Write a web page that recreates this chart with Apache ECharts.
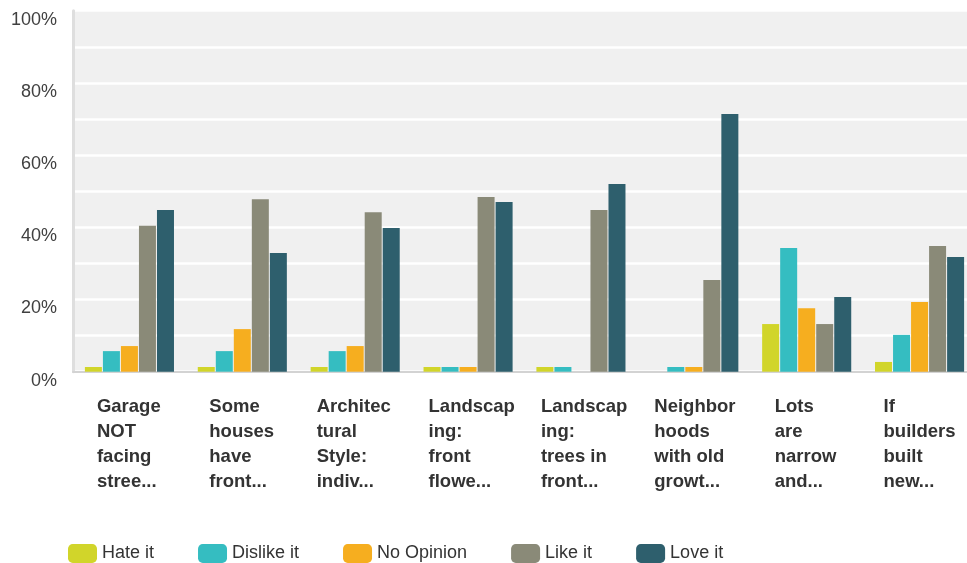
<!DOCTYPE html>
<html>
<head>
<meta charset="utf-8">
<script src="https://cdn.jsdelivr.net/npm/echarts@6/dist/echarts.min.js"></script>
<style>
html,body{margin:0;padding:0;background:#fff;overflow:hidden;}
#chart{width:976px;height:563px;}
</style>
</head>
<body>
<div id="chart"></div>
<script>
const categories = [
  "Garage\nNOT\nfacing\nstree...",
  "Some\nhouses\nhave\nfront...",
  "Architec\ntural\nStyle:\nindiv...",
  "Landscap\ning:\nfront\nflowe...",
  "Landscap\ning:\ntrees in\nfront...",
  "Neighbor\nhoods\nwith old\ngrowt...",
  "Lots\nare\nnarrow\nand...",
  "If\nbuilders\nbuilt\nnew..."
];
const seriesNames = ["Hate it", "Dislike it", "No Opinion", "Like it", "Love it"];
const hateIt    = [1.3, 1.3, 1.3, 1.3, 1.3, 0, 13.2, 2.7];
const dislikeIt = [5.7, 5.7, 5.7, 1.3, 1.3, 1.3, 34.3, 10.2];
const noOpinion = [7.1, 11.8, 7.1, 1.3, 0, 1.3, 17.6, 19.3];
const likeIt    = [40.4, 47.8, 44.2, 48.4, 44.8, 25.4, 13.2, 34.8];
const loveIt    = [44.8, 32.9, 39.8, 47.0, 52.0, 71.4, 20.7, 31.8];
const yTicks = [0, 20, 40, 60, 80, 100];

const colors = ["#d1d52a", "#35bdc1", "#f6ae1f", "#8a8a78", "#2e5f6d"];
const labelWidths = [65, 66, 77, 79, 80, 79, 64, 72];

const rich = {};
labelWidths.forEach((w, i) => {
  rich['w' + i] = {
    width: w, align: 'left', fontSize: 18.5, fontWeight: 'bold',
    fontFamily: 'Liberation Sans, Arial, sans-serif', color: '#333', lineHeight: 25
  };
});

const chart = echarts.init(document.getElementById('chart'));
const dataSets = [hateIt, dislikeIt, noOpinion, likeIt, loveIt];

chart.setOption({
  animation: false,
  grid: {
    left: 73, top: 10.7, right: 0, height: 361,
    show: true, backgroundColor: '#f0f0f0', borderWidth: 0
  },
  legend: {
    left: 63, top: 539,
    itemWidth: 29, itemHeight: 19, itemGap: 44,
    icon: 'roundRect',
    textStyle: { fontSize: 18, color: '#333', fontFamily: 'Liberation Sans, Arial, sans-serif', padding: [0, 0, 6, 0] },
    data: seriesNames
  },
  xAxis: {
    type: 'category',
    data: categories,
    axisLine: { show: true, lineStyle: { color: '#d3d3d3', width: 2 } },
    axisTick: { show: false },
    splitLine: { show: false },
    axisLabel: {
      interval: 0,
      margin: 23,
      align: 'center',
      formatter: (v, i) => '{w' + i + '|' + v + '}',
      rich: rich
    }
  },
  yAxis: {
    type: 'value',
    min: 0, max: 100, interval: 10,
    axisLine: { show: true, lineStyle: { color: '#dedede', width: 3 } },
    axisTick: { show: false },
    splitLine: { show: true, lineStyle: { color: '#ffffff', width: 2.5 } },
    axisLabel: {
      margin: 16,
      fontSize: 18,
      color: '#404040',
      fontFamily: 'Liberation Sans, Arial, sans-serif',
      verticalAlign: 'top',
      formatter: v => (yTicks.indexOf(v) >= 0 ? v + '%' : '')
    }
  },
  series: seriesNames.map((name, k) => ({
    name: name,
    type: 'bar',
    data: dataSets[k],
    barWidth: 17,
    barGap: '6%',
    itemStyle: { color: colors[k] }
  }))
});
</script>
</body>
</html>
